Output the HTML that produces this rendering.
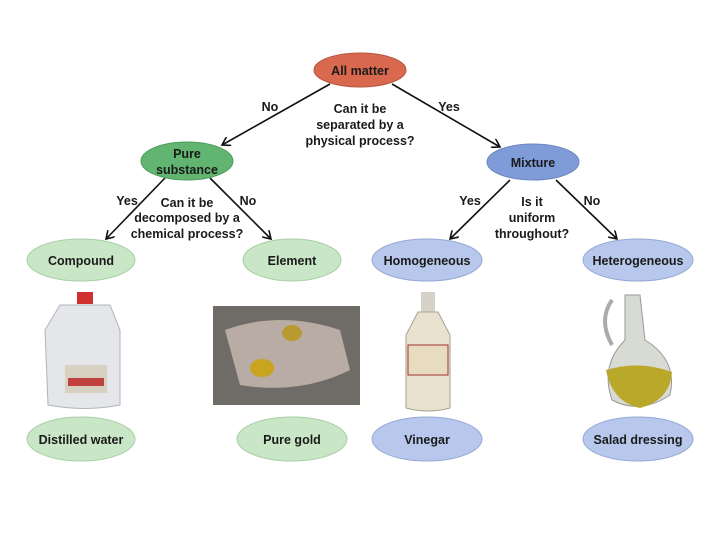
<!DOCTYPE html>
<html><head><meta charset="utf-8"><style>
html,body{margin:0;padding:0;background:#fff;width:720px;height:540px;overflow:hidden}
svg text{font-family:"Liberation Sans",sans-serif;font-weight:bold;font-size:12.5px;fill:#1a1a1a;text-anchor:middle}
</style></head><body>
<svg width="720" height="540" viewBox="0 0 720 540" xmlns="http://www.w3.org/2000/svg">
<defs>
<marker id="a" markerWidth="10" markerHeight="10" refX="8" refY="5" orient="auto" markerUnits="userSpaceOnUse">
<path d="M0,0 L8,5 L0,10" fill="none" stroke="#111" stroke-width="1.6"/></marker>
</defs>
<g stroke="#111" stroke-width="1.6" marker-end="url(#a)">
<line x1="330" y1="84" x2="222" y2="145"/>
<line x1="392" y1="84" x2="500" y2="147"/>
<line x1="165" y1="178" x2="106" y2="239"/>
<line x1="210" y1="178" x2="271" y2="239"/>
<line x1="510" y1="180" x2="450" y2="239"/>
<line x1="556" y1="180" x2="617" y2="239"/>
</g>
<ellipse cx="360" cy="70" rx="46" ry="17" fill="#d9694e" stroke="#b9553e"/>
<ellipse cx="187" cy="161" rx="46" ry="19" fill="#62b570" stroke="#4f9a5c"/>
<ellipse cx="533" cy="162" rx="46" ry="18" fill="#7f9cd8" stroke="#6a86c0"/>
<g fill="#c9e7c6" stroke="#a9cfa6">
<ellipse cx="81" cy="260" rx="54" ry="21"/><ellipse cx="292" cy="260" rx="49" ry="21"/>
<ellipse cx="81" cy="439" rx="54" ry="22"/><ellipse cx="292" cy="439" rx="55" ry="22"/>
</g>
<g fill="#b8c8ec" stroke="#95a9d6">
<ellipse cx="427" cy="260" rx="55" ry="21"/><ellipse cx="638" cy="260" rx="55" ry="21"/>
<ellipse cx="427" cy="439" rx="55" ry="22"/><ellipse cx="638" cy="439" rx="55" ry="22"/>
</g>
<text x="360" y="75">All matter</text>
<text x="187" y="158">Pure</text><text x="187" y="174">substance</text>
<text x="533" y="167">Mixture</text>
<text x="81" y="265">Compound</text><text x="292" y="265">Element</text>
<text x="427" y="265">Homogeneous</text><text x="638" y="265">Heterogeneous</text>
<text x="81" y="444">Distilled water</text><text x="292" y="444">Pure gold</text>
<text x="427" y="444">Vinegar</text><text x="638" y="444">Salad dressing</text>
<text x="270" y="111">No</text><text x="449" y="111">Yes</text>
<text x="360" y="113">Can it be</text><text x="360" y="129">separated by a</text><text x="360" y="145">physical process?</text>
<text x="127" y="205">Yes</text><text x="248" y="205">No</text>
<text x="187" y="207">Can it be</text><text x="187" y="222">decomposed by a</text><text x="187" y="238">chemical process?</text>
<text x="470" y="205">Yes</text><text x="592" y="205">No</text>
<text x="532" y="206">Is it</text><text x="532" y="222">uniform</text><text x="532" y="238">throughout?</text>
<!-- jug -->
<rect x="77" y="292" width="16" height="12" fill="#d03030"/>
<path d="M60,305 L110,305 L120,330 L120,405 Q85,412 48,405 L45,330 Z" fill="#e4e6ea" stroke="#b0b4bc"/>
<rect x="65" y="365" width="42" height="28" fill="#d8d0c0"/><rect x="68" y="378" width="36" height="8" fill="#c04040"/>
<!-- gold photo -->
<rect x="213" y="306" width="147" height="99" fill="#6f6c68"/>
<path d="M225,330 Q280,310 340,330 L350,370 Q300,395 240,385 Z" fill="#b8aca4"/>
<ellipse cx="262" cy="368" rx="12" ry="9" fill="#c8a420"/><ellipse cx="292" cy="333" rx="10" ry="8" fill="#b89a30"/>
<!-- vinegar -->
<rect x="421" y="292" width="14" height="20" fill="#d6d2c8"/>
<path d="M418,312 L438,312 L450,335 L450,408 Q428,414 406,408 L406,335 Z" fill="#e8e2cf" stroke="#a8a290"/>
<rect x="408" y="345" width="40" height="30" fill="#e8dcc0" stroke="#a03030"/>
<!-- cruet -->
<path d="M625,295 L640,295 L645,340 Q678,360 670,395 Q640,415 612,400 Q600,365 625,340 Z" fill="#d8dad4" stroke="#999"/>
<path d="M606,370 Q640,360 672,372 Q670,400 640,408 Q612,402 606,370 Z" fill="#b9a82a"/>
<path d="M612,300 Q598,320 612,345" fill="none" stroke="#aaa" stroke-width="4"/>
</svg>
</body></html>
